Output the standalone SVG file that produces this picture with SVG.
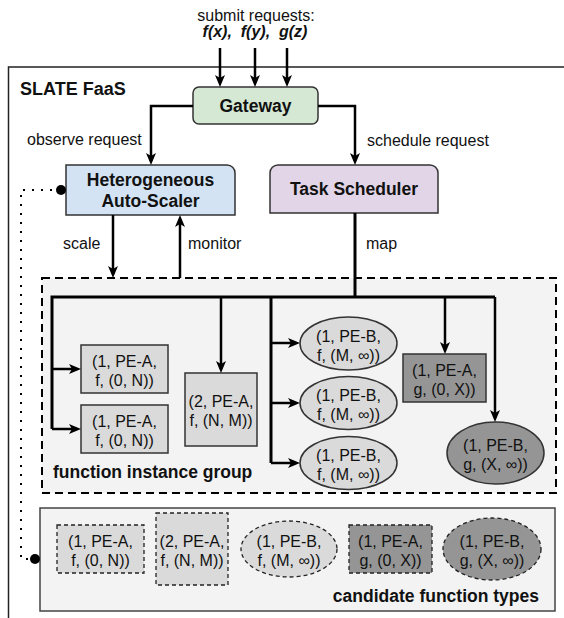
<svg xmlns="http://www.w3.org/2000/svg" width="564" height="618" viewBox="0 0 564 618">
<style>
text{font-family:"Liberation Sans",Arial,Helvetica,sans-serif;fill:#111}
.r{font-size:16px}
.b{font-size:17.5px;font-weight:bold}
.c{text-anchor:middle}
.node{stroke:#333;stroke-width:1.5}
.lite{fill:#dadada}
.dark{fill:#959595}
.cand{stroke:#222;stroke-width:1.3;stroke-dasharray:4 3}
.edge{fill:none;stroke:#000;stroke-width:2.5}
.trunk{fill:none;stroke:#000;stroke-width:3}
</style>
<defs>
<marker id="ah" markerUnits="userSpaceOnUse" markerWidth="14" markerHeight="12" refX="8" refY="5" orient="auto">
<path d="M0,0 L12,5 L0,10 L3,5 Z" fill="#000"/>
</marker>
</defs>
<rect width="564" height="618" fill="#fff"/>

<g id="slate">
<rect x="8.5" y="67" width="600" height="600" fill="#fff" stroke="#222" stroke-width="1.5"/>
<text x="20" y="95" class="b" style="font-size:18px">SLATE FaaS</text>
</g>

<g id="submit">
<text x="256" y="21" class="r c">submit requests:</text>
<text x="255" y="37" class="r c" style="font-weight:bold;font-style:italic;white-space:pre" xml:space="preserve">f(x),  f(y),  g(z)</text>
</g>

<g id="instance-group">
<rect x="42" y="278" width="514" height="215" fill="#f3f3f3" stroke="#000" stroke-width="2" stroke-dasharray="8 5"/>
<text x="53" y="478" class="b">function instance group</text>
</g>

<g id="candidate-group">
<rect x="40" y="508" width="515" height="103" fill="#f3f3f3" stroke="#444" stroke-width="1.5"/>
<text x="539" y="602" class="b" style="text-anchor:end">candidate function types</text>
</g>

<g id="gateway">
<rect x="193" y="87" width="125" height="37" rx="6" fill="#d5e8d4" class="node"/>
<text x="255.5" y="112" class="b c">Gateway</text>
</g>

<g id="autoscaler">
<path d="M66,165 H227 A8,8 0 0 1 235,173 V215 H66 Z" fill="#d3e3f4" class="node"/>
<text x="150.5" y="186" class="b c">Heterogeneous</text>
<text x="150.5" y="207" class="b c">Auto-Scaler</text>
</g>

<g id="scheduler">
<path d="M278,165 H430 A8,8 0 0 1 438,173 V213 H270 V173 A8,8 0 0 1 278,165 Z" fill="#e1d5e7" class="node"/>
<text x="354" y="195" class="b c">Task Scheduler</text>
</g>

<g id="inst-a1">
<rect x="81" y="345" width="87" height="48" class="node lite"/>
<text x="124.5" y="366.5" class="r c">(1, PE-A,</text>
<text x="124.5" y="385.5" class="r c">f, (0, N))</text>
</g>
<g id="inst-a2">
<rect x="81" y="405" width="87" height="48" class="node lite"/>
<text x="124.5" y="426.5" class="r c">(1, PE-A,</text>
<text x="124.5" y="445.5" class="r c">f, (0, N))</text>
</g>
<g id="inst-a3">
<rect x="185" y="373" width="72" height="73" class="node lite"/>
<text x="221" y="407" class="r c">(2, PE-A,</text>
<text x="221" y="426" class="r c">f, (N, M))</text>
</g>
<g id="inst-b1">
<ellipse cx="348.5" cy="343.5" rx="48.5" ry="26.5" class="node lite"/>
<text x="348.5" y="341.5" class="r c">(1, PE-B,</text>
<text x="348.5" y="360.5" class="r c">f, (M, ∞))</text>
</g>
<g id="inst-b2">
<ellipse cx="348.5" cy="403" rx="48.5" ry="26.5" class="node lite"/>
<text x="348.5" y="401" class="r c">(1, PE-B,</text>
<text x="348.5" y="420" class="r c">f, (M, ∞))</text>
</g>
<g id="inst-b3">
<ellipse cx="348.5" cy="463" rx="48.5" ry="26.5" class="node lite"/>
<text x="348.5" y="461" class="r c">(1, PE-B,</text>
<text x="348.5" y="480" class="r c">f, (M, ∞))</text>
</g>
<g id="inst-g1">
<rect x="403" y="354" width="83" height="48" class="node dark"/>
<text x="444.5" y="375.5" class="r c">(1, PE-A,</text>
<text x="444.5" y="394.5" class="r c">g, (0, X))</text>
</g>
<g id="inst-g2">
<ellipse cx="495.5" cy="453" rx="48.5" ry="31" class="node dark"/>
<text x="495.5" y="451" class="r c">(1, PE-B,</text>
<text x="495.5" y="470" class="r c">g, (X, ∞))</text>
</g>

<g id="cand-a1">
<rect x="57" y="525" width="87" height="48" class="cand lite"/>
<text x="100.5" y="546.5" class="r c">(1, PE-A,</text>
<text x="100.5" y="565.5" class="r c">f, (0, N))</text>
</g>
<g id="cand-a2">
<rect x="156" y="513" width="72" height="72" class="cand lite"/>
<text x="192" y="546.5" class="r c">(2, PE-A,</text>
<text x="192" y="565.5" class="r c">f, (N, M))</text>
</g>
<g id="cand-b1">
<ellipse cx="289" cy="549" rx="48" ry="28" class="cand lite"/>
<text x="289" y="546.5" class="r c">(1, PE-B,</text>
<text x="289" y="565.5" class="r c">f, (M, ∞))</text>
</g>
<g id="cand-g1">
<rect x="349" y="525" width="83" height="48" class="cand dark"/>
<text x="390.5" y="546.5" class="r c">(1, PE-A,</text>
<text x="390.5" y="565.5" class="r c">g, (0, X))</text>
</g>
<g id="cand-g2">
<ellipse cx="492" cy="549" rx="49" ry="31" class="cand dark"/>
<text x="492" y="546.5" class="r c">(1, PE-B,</text>
<text x="492" y="565.5" class="r c">g, (X, ∞))</text>
</g>

<g id="connectors">
<path class="edge" d="M220,48 V83" marker-end="url(#ah)"/>
<path class="edge" d="M255,48 V83" marker-end="url(#ah)"/>
<path class="edge" d="M287,48 V83" marker-end="url(#ah)"/>
<path class="edge" d="M193,106 H151 V161" marker-end="url(#ah)"/>
<path class="edge" d="M318,106 H355 V161" marker-end="url(#ah)"/>
<path class="edge" d="M113,215 V274" marker-end="url(#ah)"/>
<path class="edge" d="M180,278 V219" marker-end="url(#ah)"/>
<path class="trunk" d="M355,213 V297"/>
<path class="trunk" d="M52,429 V297 H495"/>
<path class="edge" d="M52,369 H77" marker-end="url(#ah)"/>
<path class="edge" d="M52,429 H77" marker-end="url(#ah)"/>
<path class="edge" d="M221,297 V369" marker-end="url(#ah)"/>
<path class="trunk" d="M271,297 V463"/>
<path class="edge" d="M271,343 H296" marker-end="url(#ah)"/>
<path class="edge" d="M271,403 H296" marker-end="url(#ah)"/>
<path class="edge" d="M271,463 H296" marker-end="url(#ah)"/>
<path class="edge" d="M445,297 V350" marker-end="url(#ah)"/>
<path class="edge" d="M495,297 V418" marker-end="url(#ah)"/>
<path d="M61,190 H21 V559 H35" fill="none" stroke="#000" stroke-width="2" stroke-dasharray="2 7" stroke-linecap="butt"/>
<circle cx="61" cy="190" r="5" fill="#000"/>
<circle cx="35" cy="559" r="5" fill="#000"/>
<text x="27" y="145" class="r">observe request</text>
<text x="367" y="146" class="r">schedule request</text>
<text x="63" y="249" class="r">scale</text>
<text x="188" y="249" class="r">monitor</text>
<text x="366" y="249" class="r">map</text>
</g>
</svg>
